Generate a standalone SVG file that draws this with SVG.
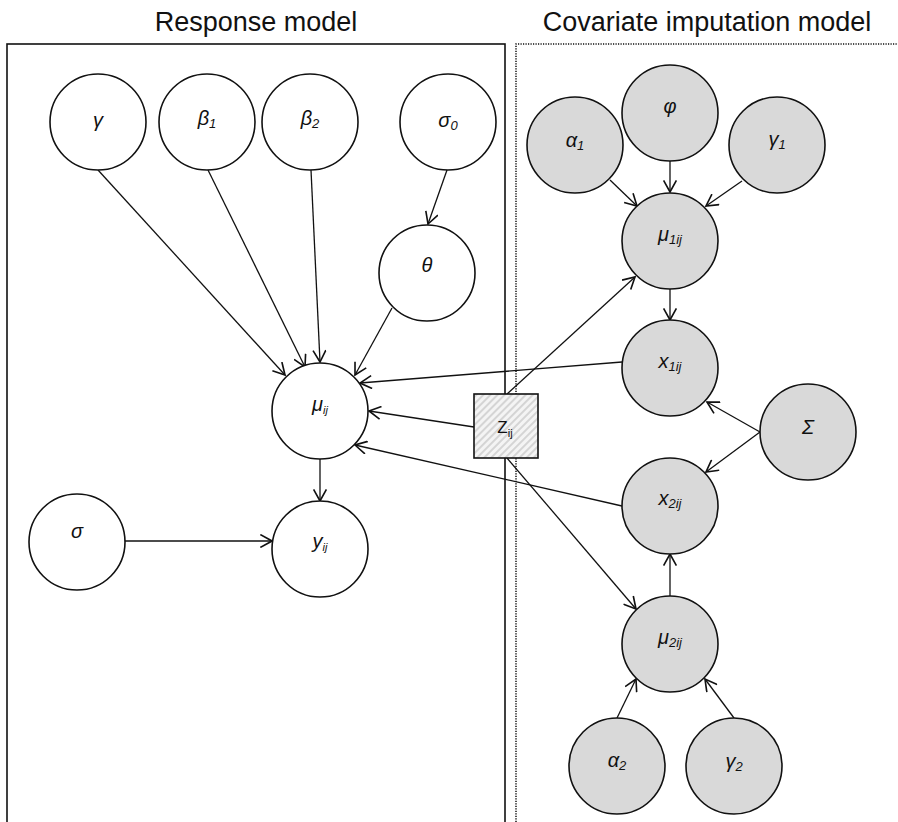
<svg xmlns="http://www.w3.org/2000/svg" width="898" height="822" viewBox="0 0 898 822">
<defs>
<marker id="arr" markerUnits="userSpaceOnUse" markerWidth="14" markerHeight="14" viewBox="0 0 12 12" refX="11" refY="6" orient="auto">
<path d="M1,0.5 L11,6 L1,11.5" fill="none" stroke="#111" stroke-width="1.4"/>
</marker>
<pattern id="hatch" patternUnits="userSpaceOnUse" width="5" height="5" patternTransform="rotate(45)">
<rect width="5" height="5" fill="#f4f4f4"/>
<line x1="1" y1="0" x2="1" y2="5" stroke="#c4c4c4" stroke-width="1.3"/>
</pattern>
</defs>
<style>
.title{font-family:"Liberation Sans",Arial,sans-serif;font-size:27px;fill:#111;text-anchor:middle}
.c{stroke:#111;stroke-width:1.6}
.w{fill:#fff}
.g{fill:#d9d9d9}
.lbl{font-family:"Liberation Sans",Arial,sans-serif;font-style:italic;font-size:20px;fill:#111;text-anchor:middle}
.sub{font-size:13px}
.subs{font-size:11px}
.con line{stroke:#111;stroke-width:1.3;marker-end:url(#arr)}
</style>
<rect width="898" height="822" fill="#fff"/>
<text class="title" x="256" y="31">Response model</text>
<text class="title" x="707" y="31">Covariate imputation model</text>
<rect x="7" y="44" width="498" height="800" fill="none" stroke="#111" stroke-width="1.6"/>
<path d="M516,822 L516,44 L898,44" fill="none" stroke="#111" stroke-width="1.5" stroke-dasharray="1.2 1.3"/>
<g class="con">
<line x1="98" y1="170" x2="285" y2="375"/>
<line x1="208" y1="170" x2="305" y2="367"/>
<line x1="311" y1="170" x2="320" y2="362"/>
<line x1="447" y1="170" x2="428" y2="224"/>
<line x1="392" y1="308" x2="355" y2="375"/>
<line x1="622" y1="362" x2="360" y2="383"/>
<line x1="474" y1="427" x2="369" y2="411"/>
<line x1="622" y1="506" x2="355" y2="445"/>
<line x1="320" y1="459" x2="320" y2="501"/>
<line x1="124" y1="541" x2="272" y2="541"/>
<line x1="610" y1="180" x2="637" y2="206"/>
<line x1="670" y1="161" x2="670" y2="192"/>
<line x1="742" y1="181" x2="706" y2="206"/>
<line x1="507" y1="394" x2="635" y2="277"/>
<line x1="670" y1="289" x2="670" y2="320"/>
<line x1="760" y1="432" x2="707" y2="402"/>
<line x1="760" y1="432" x2="706" y2="472"/>
<line x1="670" y1="597" x2="670" y2="554"/>
<line x1="507" y1="458" x2="636" y2="609"/>
<line x1="617" y1="718" x2="636" y2="679"/>
<line x1="734" y1="718" x2="705" y2="679"/>
</g>
<g id="gamma"><circle class="c w" cx="98" cy="122" r="48"/><text class="lbl" x="98" y="127">γ</text></g>
<g id="beta1"><circle class="c w" cx="207" cy="122" r="48"/><text class="lbl" x="207" y="125">β<tspan class="sub" dy="3">1</tspan></text></g>
<g id="beta2"><circle class="c w" cx="310" cy="122" r="48"/><text class="lbl" x="310" y="125">β<tspan class="sub" dy="3">2</tspan></text></g>
<g id="sigma0"><circle class="c w" cx="448" cy="122" r="48"/><text class="lbl" x="448" y="127">σ<tspan class="sub" dy="3">0</tspan></text></g>
<g id="theta"><circle class="c w" cx="427" cy="273" r="48"/><text class="lbl" x="427" y="272">θ</text></g>
<g id="mu_ij"><circle class="c w" cx="320" cy="411" r="48"/><text class="lbl" x="320" y="411">μ<tspan class="subs" dy="3">ij</tspan></text></g>
<g id="y_ij"><circle class="c w" cx="320" cy="549" r="48"/><text class="lbl" x="320" y="548">y<tspan class="subs" dy="3">ij</tspan></text></g>
<g id="sigma"><circle class="c w" cx="77" cy="542" r="48"/><text class="lbl" x="77" y="538">σ</text></g>
<g id="Z_ij"><rect x="474" y="394" width="64" height="64" fill="url(#hatch)" stroke="#111" stroke-width="1.6"/><text x="505" y="433" font-family="'Liberation Sans',Arial,sans-serif" font-size="17" fill="#111" text-anchor="middle">Z<tspan font-size="11" dy="4">ij</tspan></text></g>
<g id="alpha1"><circle class="c g" cx="575" cy="145" r="48"/><text class="lbl" x="575" y="147">α<tspan class="sub" dy="3">1</tspan></text></g>
<g id="phi"><circle class="c g" cx="670" cy="113" r="48"/><text class="lbl" x="670" y="113">φ</text></g>
<g id="gamma1"><circle class="c g" cx="777" cy="145" r="48"/><text class="lbl" x="777" y="146">γ<tspan class="sub" dy="3">1</tspan></text></g>
<g id="mu1ij"><circle class="c g" cx="670" cy="241" r="48"/><text class="lbl" x="670" y="241">μ<tspan class="sub" dy="3">1ij</tspan></text></g>
<g id="x1ij"><circle class="c g" cx="670" cy="368" r="48"/><text class="lbl" x="670" y="368">x<tspan class="sub" dy="3">1ij</tspan></text></g>
<g id="Sigma"><circle class="c g" cx="808" cy="432" r="48"/><text class="lbl" x="808" y="434">Σ</text></g>
<g id="x2ij"><circle class="c g" cx="670" cy="506" r="48"/><text class="lbl" x="670" y="505">x<tspan class="sub" dy="3">2ij</tspan></text></g>
<g id="mu2ij"><circle class="c g" cx="670" cy="644" r="48"/><text class="lbl" x="670" y="644">μ<tspan class="sub" dy="3">2ij</tspan></text></g>
<g id="alpha2"><circle class="c g" cx="617" cy="766" r="48"/><text class="lbl" x="617" y="767">α<tspan class="sub" dy="3">2</tspan></text></g>
<g id="gamma2"><circle class="c g" cx="734" cy="766" r="48"/><text class="lbl" x="734" y="768">γ<tspan class="sub" dy="3">2</tspan></text></g>
</svg>
